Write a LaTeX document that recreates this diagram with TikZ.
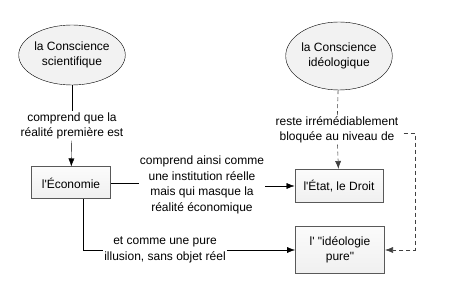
\documentclass[tikz,border=0pt]{standalone}
\usepackage{fontspec}
\setmainfont{Liberation Sans}[Ligatures=TeXOff]
\usetikzlibrary{shapes.geometric,arrows.meta}

\tikzset{
  bulle/.style={ellipse, draw=black, fill=gray!10, align=center, inner sep=0pt},
  boite/.style={rectangle, draw=black!65, line width=1pt, top color=gray!3, bottom color=gray!12, align=center},
  etiq/.style={fill=white, align=center, inner sep=1pt},
  lien/.style={draw=black, -{Latex[length=8pt,width=6pt]}},
  tirets/.style={draw=black!75, dash pattern=on 4pt off 3pt, line width=0.6pt},
}

\begin{document}
\begin{tikzpicture}[x=1pt, y=1pt, font=\fontsize{12}{15.5}\selectfont]
  \useasboundingbox (0,0) rectangle (450,300);

  % les deux consciences
  \node[bulle, minimum width=106pt, minimum height=60pt] (sci) at (72,245) {la Conscience\\scientifique};
  \node[bulle, minimum width=100pt, minimum height=68pt] (ideo) at (339,244) {la Conscience\\idéologique};

  % boites
  \node[boite, minimum width=79pt, minimum height=32pt] (eco) at (71,117) {l'Économie};
  \node[boite, minimum width=88pt, minimum height=33pt] (etat) at (339,114) {l'État, le Droit};
  \node[boite, minimum width=89pt, minimum height=47pt] (pure) at (340,50) {l' "idéologie\\pure"};

  % etiquettes
  \node[etiq] (lsci) at (72,174) {comprend que la\\réalité première est};
  \node[etiq] (lainsi) at (202,115) {comprend ainsi comme\\une institution réelle\\mais qui masque la\\réalité économique};
  \node[etiq] (lillu) at (165,50) {et comme une pure\\illusion, sans objet réel};
  \node[etiq] (lreste) at (337,170) {reste irrémédiablement\\bloquée au niveau de};

  % liens
  \draw (sci) -- (lsci);
  \draw[lien] (lsci) -- (eco);
  \draw (eco.east) -- (lainsi.west |- eco.east);
  \draw[lien] (lainsi.east |- etat.west) -- (etat.west);
  \draw ([xshift=12pt]eco.south) |- (lillu.west);
  \draw[lien] (lillu) -- (pure);

  \draw[tirets] (ideo) -- (lreste);
  \draw[lien, tirets] (lreste) -- (etat);
  \coordinate (coin) at (415,167);
  \draw[lien, tirets] ([xshift=4pt]lreste.east |- coin) -- (coin) |- (pure.east);
\end{tikzpicture}
\end{document}
